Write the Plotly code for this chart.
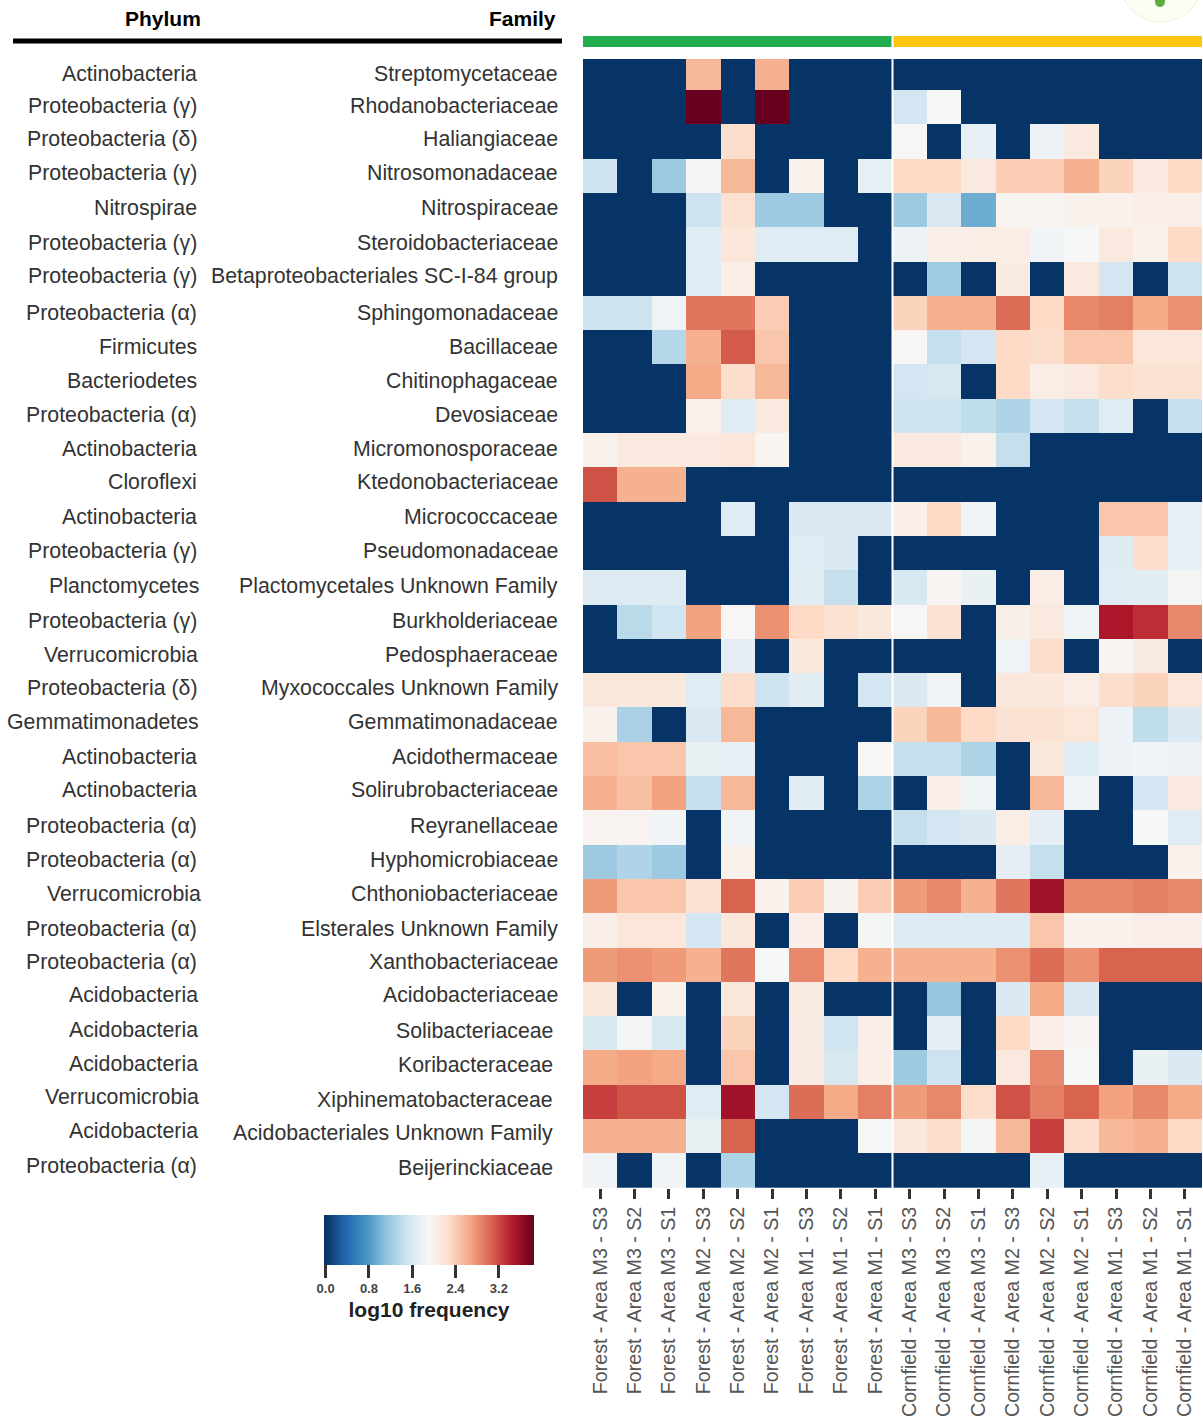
import plotly.graph_objects as go

phylum = ["Actinobacteria","Proteobacteria (γ)","Proteobacteria (δ)","Proteobacteria (γ)","Nitrospirae","Proteobacteria (γ)","Proteobacteria (γ)","Proteobacteria (α)","Firmicutes","Bacteriodetes","Proteobacteria (α)","Actinobacteria","Cloroflexi","Actinobacteria","Proteobacteria (γ)","Planctomycetes","Proteobacteria (γ)","Verrucomicrobia","Proteobacteria (δ)","Gemmatimonadetes","Actinobacteria","Actinobacteria","Proteobacteria (α)","Proteobacteria (α)","Verrucomicrobia","Proteobacteria (α)","Proteobacteria (α)","Acidobacteria","Acidobacteria","Acidobacteria","Verrucomicrobia","Acidobacteria","Proteobacteria (α)"]
family = ["Streptomycetaceae","Rhodanobacteriaceae","Haliangiaceae","Nitrosomonadaceae","Nitrospiraceae","Steroidobacteriaceae","Betaproteobacteriales SC-I-84 group","Sphingomonadaceae","Bacillaceae","Chitinophagaceae","Devosiaceae","Micromonosporaceae","Ktedonobacteriaceae","Micrococcaceae","Pseudomonadaceae","Plactomycetales Unknown Family","Burkholderiaceae","Pedosphaeraceae","Myxococcales Unknown Family","Gemmatimonadaceae","Acidothermaceae","Solirubrobacteriaceae","Reyranellaceae","Hyphomicrobiaceae","Chthoniobacteriaceae","Elsterales Unknown Family","Xanthobacteriaceae","Acidobacteriaceae","Solibacteriaceae","Koribacteraceae","Xiphinematobacteraceae","Acidobacteriales Unknown Family","Beijerinckiaceae"]
samples = ["Forest - Area M3 - S3","Forest - Area M3 - S2","Forest - Area M3 - S1","Forest - Area M2 - S3","Forest - Area M2 - S2","Forest - Area M2 - S1","Forest - Area M1 - S3","Forest - Area M1 - S2","Forest - Area M1 - S1","Cornfield - Area M3 - S3","Cornfield - Area M3 - S2","Cornfield - Area M3 - S1","Cornfield - Area M2 - S3","Cornfield - Area M2 - S2","Cornfield - Area M2 - S1","Cornfield - Area M1 - S3","Cornfield - Area M1 - S2","Cornfield - Area M1 - S1"]

log10_frequency = [
[0,0,0,2.55,0,2.6,0,0,0, 0,0,0,0,0,0,0,0,0],
[0,0,0,3.85,0,3.85,0,0,0, 1.55,1.9,0,0,0,0,0,0,0],
[0,0,0,0,2.25,0,0,0,0, 1.92,0,1.75,0,1.8,2.1,0,0,0],
[1.5,0,1.2,1.88,2.55,0,2.0,0,1.75, 2.3,2.3,2.1,2.4,2.4,2.6,2.35,2.1,2.3],
[0,0,0,1.5,2.2,1.2,1.2,0,0, 1.2,1.62,0.95,1.95,1.95,2.0,2.0,2.03,2.03],
[0,0,0,1.68,2.15,1.68,1.68,1.68,0, 1.8,2.03,2.05,2.05,1.85,1.9,2.1,2.0,2.3],
[0,0,0,1.68,2.03,0,0,0,0, 0,1.22,0,2.08,0,2.1,1.55,0,1.5],
[1.5,1.5,1.83,2.95,2.95,2.4,0,0,0, 2.35,2.6,2.6,3.0,2.3,2.85,2.9,2.65,2.8],
[0,0,1.35,2.6,3.1,2.45,0,0,0, 1.93,1.45,1.55,2.3,2.25,2.45,2.45,2.15,2.15],
[0,0,0,2.65,2.25,2.55,0,0,0, 1.55,1.58,0,2.3,2.05,2.1,2.25,2.2,2.2],
[0,0,0,2.0,1.68,2.1,0,0,0, 1.5,1.5,1.42,1.32,1.55,1.45,1.68,0,1.45],
[2.0,2.1,2.1,2.1,2.15,1.95,0,0,0, 2.1,2.1,2.0,1.45,0,0,0,0,0],
[3.15,2.6,2.6,0,0,0,0,0,0, 0,0,0,0,0,0,0,0,0],
[0,0,0,0,1.68,0,1.62,1.62,1.62, 2.03,2.3,1.85,0,0,0,2.45,2.45,1.75],
[0,0,0,0,0,0,1.68,1.62,0, 0,0,0,0,0,0,1.65,2.25,1.75],
[1.65,1.65,1.65,0,0,0,1.7,1.45,0, 1.58,1.95,1.78,0,2.05,0,1.68,1.7,1.88],
[0,1.38,1.52,2.7,1.93,2.8,2.3,2.2,2.12, 1.93,2.2,0,2.02,2.1,1.82,3.5,3.35,2.85],
[0,0,0,0,1.72,0,2.12,0,0, 0,0,0,1.82,2.25,0,1.95,2.07,0],
[2.12,2.12,2.12,1.68,2.25,1.5,1.7,0,1.55, 1.62,1.83,0,2.12,2.12,2.05,2.25,2.35,2.15],
[2.0,1.28,0,1.62,2.55,0,0,0,0, 2.35,2.55,2.3,2.2,2.2,2.15,1.8,1.42,1.62],
[2.5,2.45,2.45,1.77,1.75,0,0,0,1.93, 1.45,1.45,1.3,0,2.12,1.68,1.8,1.85,1.8],
[2.6,2.5,2.7,1.45,2.55,0,1.7,0,1.3, 0,2.03,1.82,0,2.55,1.85,0,1.55,2.1],
[1.96,1.96,1.85,0,1.83,0,0,0,0, 1.45,1.55,1.62,2.05,1.72,0,0,1.9,1.68],
[1.2,1.32,1.2,0,2.0,0,0,0,0, 0,0,0,1.72,1.45,0,0,0,2.0],
[2.75,2.45,2.45,2.2,3.05,2.0,2.4,1.98,2.4, 2.75,2.85,2.6,2.95,3.55,2.85,2.85,2.9,2.85],
[2.03,2.15,2.15,1.55,2.12,0,2.03,0,1.88, 1.65,1.65,1.65,1.65,2.45,2.0,2.0,2.03,2.03],
[2.75,2.8,2.75,2.6,2.95,1.9,2.85,2.3,2.6, 2.6,2.6,2.6,2.8,3.0,2.8,3.05,3.05,3.05],
[2.12,0,2.0,0,2.12,0,2.08,0,0, 0,1.15,0,1.62,2.65,1.62,0,0,0],
[1.6,1.88,1.58,0,2.35,0,2.07,1.52,2.03, 0,1.72,0,2.3,2.03,1.95,0,0,0],
[2.65,2.7,2.65,0,2.45,0,2.07,1.58,2.03, 1.2,1.5,0,2.1,2.85,1.9,0,1.78,1.62],
[3.25,3.15,3.15,1.68,3.55,1.55,3.0,2.65,2.9, 2.75,2.85,2.25,3.15,2.9,3.05,2.7,2.85,2.65],
[2.6,2.6,2.6,1.78,3.05,0,0,0,1.9, 2.12,2.25,1.88,2.55,3.25,2.25,2.55,2.6,2.3],
[1.83,0,1.83,0,1.3,0,0,0,0, 0,0,0,0,1.75,0,0,0,0],
]
cbar_ticks = [0, 0.8, 1.6, 2.4, 3.2]

W, H = 1203, 1421
L, R, T, B = 583, 1202, 59, 1188
FONT = "Liberation Sans"
def px(x): return (x - L) / (R - L)
def py(y): return (B - y) / (B - T)

phy_y = [74,106,139,173,208,243,276,313,347,381,415,449,482,517,551,586,621,655,688,722,757,790,826,860,894,929,962,995,1030,1064,1097,1131,1166]
fam_y = [74,106,139,173,208,243,276,313,347,381,415,449,482,517,551,586,621,655,688,722,757,790,826,860,894,929,962,995,1031,1065,1100,1133,1168]
phy_end = [198.5]*33
phy_end[15] = 200.5
phy_end[17] = 199.5
phy_end[19] = 200.5
phy_end[24] = 202.5
phy_end[30] = 200.5
for i in (27, 28, 29, 31):
    phy_end[i] = 199.5

fig = go.Figure(go.Heatmap(
    z=log10_frequency, x=samples, y=list(range(33)),
    colorscale="RdBu_r", zmin=-0.03, zmax=3.85,
    showscale=True,
    colorbar=dict(
        orientation="h", xref="paper", yref="paper",
        xanchor="left", yanchor="top",
        x=px(324), y=py(1215), len=210, lenmode="pixels",
        thickness=50, thicknessmode="pixels", outlinewidth=0,
        xpad=0, ypad=0,
        tickvals=cbar_ticks, ticktext=["<b>0.0</b>","<b>0.8</b>","<b>1.6</b>","<b>2.4</b>","<b>3.2</b>"],
        ticks="outside", ticklen=13, tickwidth=3, tickcolor="#333333",
        tickfont=dict(family=FONT, size=13, color="#444444"),
        title=dict(text="<b>log10 frequency</b>", side="bottom",
                   font=dict(family=FONT, size=21, color="#222222")),
    ),
    hovertemplate="%{x}<br>%{z}<extra></extra>",
))

annotations = []
for i, (p, f) in enumerate(zip(phylum, family)):
    annotations.append(dict(text=p, xref="paper", yref="paper", x=px(phy_end[i]), y=py(phy_y[i]),
                            xanchor="right", yanchor="middle", showarrow=False,
                            font=dict(family=FONT, size=21.3, color="#333333")))
    annotations.append(dict(text=f, xref="paper", yref="paper", x=px(560 if i < 28 else 555), y=py(fam_y[i]),
                            xanchor="right", yanchor="middle", showarrow=False,
                            font=dict(family=FONT, size=21.3, color="#333333")))
for t, x in (("Phylum", 202.5), ("Family", 557.5)):
    annotations.append(dict(text=f"<b>{t}</b>", xref="paper", yref="paper", x=px(x), y=py(18.5),
                            xanchor="right", yanchor="middle", showarrow=False,
                            font=dict(family=FONT, size=21, color="#000000")))

shapes = [
    dict(type="line", xref="paper", yref="paper", x0=px(13), x1=px(562), y0=py(41), y1=py(41),
         line=dict(color="#000000", width=5)),
    dict(type="rect", xref="x", yref="paper", x0=-0.5, x1=8.5, y0=py(47), y1=py(36),
         fillcolor="#22ae4f", line_width=0),
    dict(type="rect", xref="x", yref="paper", x0=8.5, x1=17.5, y0=py(47), y1=py(36),
         fillcolor="#fcc612", line_width=0),
    dict(type="line", xref="x", yref="paper", x0=8.5, x1=8.5, y0=py(1188), y1=py(30),
         line=dict(color="#ffffff", width=2)),
    dict(type="circle", xref="paper", yref="paper", x0=px(1119), x1=px(1203), y0=py(22), y1=py(-62),
         fillcolor="#fcfdf3", line=dict(color="#eef0dc", width=1)),
    dict(type="circle", xref="paper", yref="paper", x0=px(1155), x1=px(1165), y0=py(7), y1=py(-4),
         fillcolor="#5cae3c", line_width=0),
]

fig.update_layout(
    width=W, height=H, autosize=False,
    margin=dict(l=L, r=W - R, t=T, b=H - B, pad=0),
    paper_bgcolor="#ffffff", plot_bgcolor="#ffffff",
    annotations=annotations, shapes=shapes, showlegend=False,
    xaxis=dict(type="category", range=[-0.5, 17.5], side="bottom", tickangle=-90,
               ticks="outside", ticklen=10, tickwidth=3, tickcolor="#333333",
               tickfont=dict(family=FONT, size=19.6, color="#555555"),
               showgrid=False, zeroline=False, showline=False),
    yaxis=dict(range=[32.5, -0.404], showticklabels=False, ticks="",
               showgrid=False, zeroline=False, showline=False),
)

fig.write_html("out.html", config={"displayModeBar": False},
               post_script="document.body.style.margin='0';document.documentElement.style.overflow='hidden';")
